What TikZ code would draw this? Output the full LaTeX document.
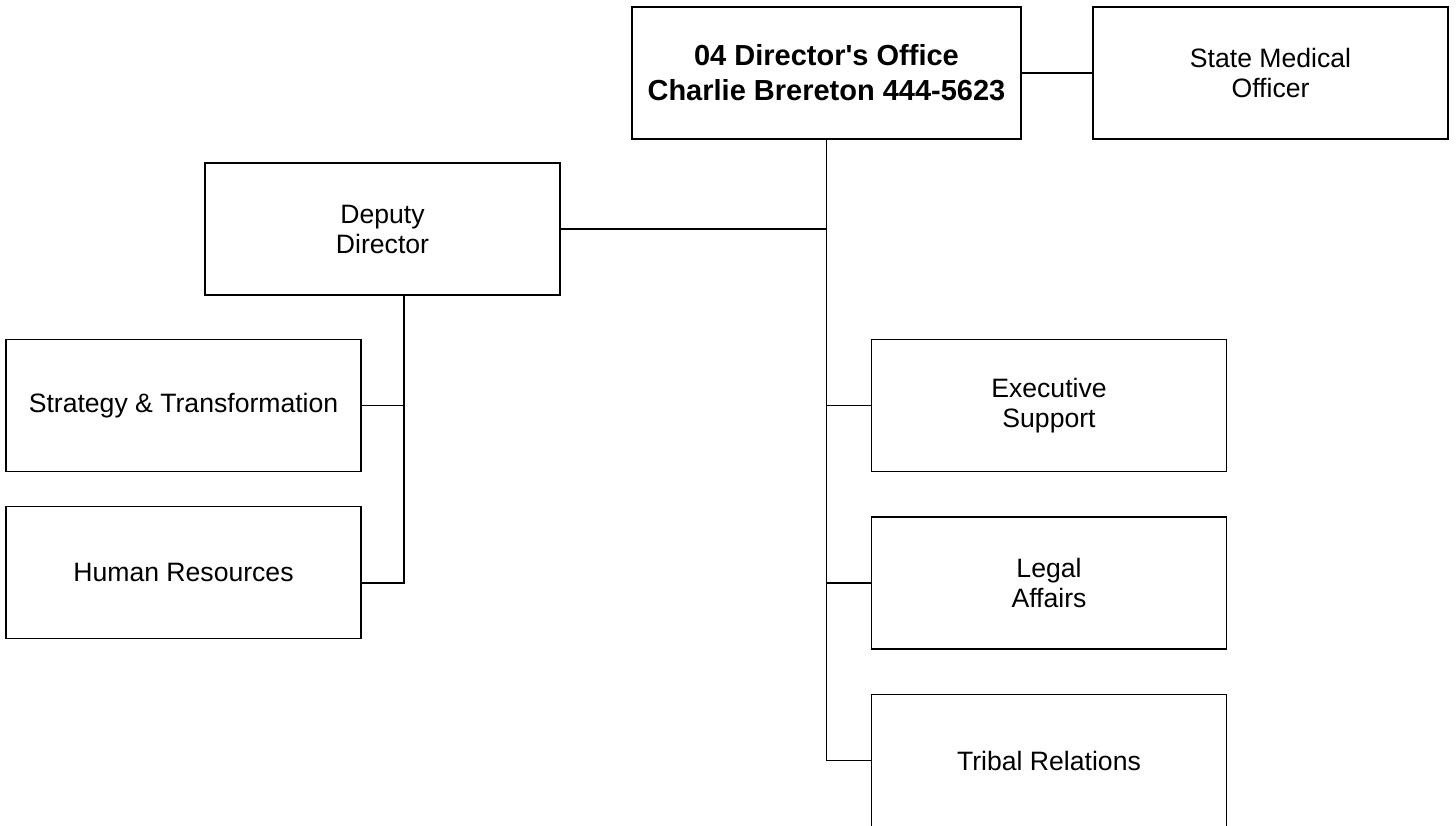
\documentclass[tikz,border=0pt]{standalone}
\usepackage{fontspec}
\setmainfont{Liberation Sans}
\usepackage{tikz}

\tikzset{
  office/.style={draw, rectangle, line width=0.55pt, outer sep=0pt, align=center,
    minimum width=177.5pt, minimum height=66pt, font=\fontsize{13.3}{15}\selectfont},
  head/.style={office, minimum width=194.5pt, font=\fontsize{14.5}{17.5}\selectfont\bfseries},
  link/.style={line width=0.55pt}
}

\begin{document}
\begin{tikzpicture}[x=0.5pt, y=-0.5pt]
			\useasboundingbox (0,0) rectangle (1456,825);

			\node[head] (dir) at (826.5,73) {04 Director\textquotesingle s Office\\Charlie Brereton 444-5623};
			\node[office] (smo) at (1270.5,73) {State Medical\\Officer};
			\node[office] (dep) at (382.5,229) {Deputy\\Director};

			\node[office] (strat) at (183.5,405.5) {Strategy \& Transformation};
			\node[office] (hr) at (183.5,572.5) {Human Resources};

			\node[office] (exec) at (1049,405.5) {Executive\\Support};
			\node[office] (legal) at (1049,583) {Legal\\Affairs};
			\node[office] (trib) at (1049,760.5) {Tribal Relations};

			\coordinate (depbus) at (404,583);

			\draw[link] (dir) -- (smo);
			\draw[link] (dir.south) -- (dir.south |- trib.west) -- (trib.west);
			\draw[link] (dep.east) -- (dep.east -| dir.south);
			\draw[link] (exec.west) -- (exec.west -| dir.south);
			\draw[link] (legal.west) -- (legal.west -| dir.south);

			\draw[link] (depbus |- dep.south) -- (depbus) -- (depbus -| hr.east);
			\draw[link] (strat.east) -- (strat.east -| depbus);
		\end{tikzpicture}
\end{document}
